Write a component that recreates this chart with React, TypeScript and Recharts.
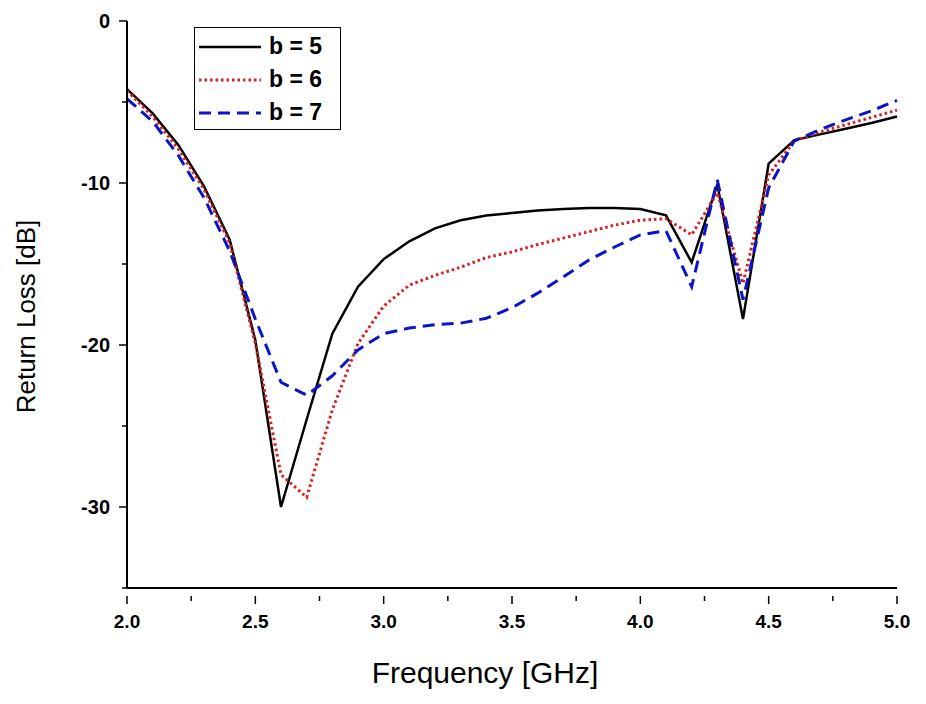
import { Line, LineChart, XAxis, YAxis, Label } from "recharts";

const freq = [2.0, 2.1, 2.2, 2.3, 2.4, 2.5, 2.6, 2.7, 2.8, 2.9, 3.0, 3.1, 3.2, 3.3, 3.4, 3.5, 3.6, 3.7, 3.8, 3.9, 4.0, 4.1, 4.2, 4.3, 4.4, 4.5, 4.6, 4.7, 4.8, 4.9, 5.0];
const b5 = [-4.2, -5.7, -7.65, -10.2, -13.5, -19.7, -30.0, -24.6, -19.3, -16.4, -14.7, -13.6, -12.8, -12.3, -12.0, -11.85, -11.7, -11.6, -11.55, -11.55, -11.6, -12.0, -14.9, -10.1, -18.4, -8.8, -7.35, -7.0, -6.65, -6.3, -5.9];
const b6 = [-4.3, -5.9, -7.9, -10.4, -13.7, -19.9, -28.0, -29.4, -24.0, -19.9, -17.6, -16.3, -15.7, -15.2, -14.6, -14.25, -13.8, -13.4, -13.0, -12.6, -12.3, -12.2, -13.2, -10.6, -16.2, -9.5, -7.4, -6.85, -6.4, -5.95, -5.5];
const b7 = [-4.8, -6.2, -8.3, -10.9, -14.2, -18.4, -22.3, -23.1, -21.9, -20.3, -19.3, -18.95, -18.75, -18.65, -18.35, -17.7, -16.8, -15.8, -14.75, -13.95, -13.2, -12.95, -16.4, -9.8, -17.2, -10.3, -7.4, -6.7, -6.1, -5.55, -4.9];

const xTicks = [2.0, 2.25, 2.5, 2.75, 3.0, 3.25, 3.5, 3.75, 4.0, 4.25, 4.5, 4.75, 5.0];
const xLabelled = [2.0, 2.5, 3.0, 3.5, 4.0, 4.5, 5.0];
const yTicks = [0, -5, -10, -15, -20, -25, -30, -35];
const yLabelled = [0, -10, -20, -30];

const series = [
  { key: "b5", name: "b = 5", color: "#000000", dash: undefined, width: 2.5 },
  { key: "b6", name: "b = 6", color: "#dd1c1c", dash: "2.5 3", width: 3 },
  { key: "b7", name: "b = 7", color: "#0a14c8", dash: "12 7", width: 3 },
];

const data = freq.map((f, i) => ({ f, b5: b5[i], b6: b6[i], b7: b7[i] }));

const FONT = "Arial, 'Liberation Sans', sans-serif";

function XTick(props: any) {
  const { x, y, payload } = props;
  const major = xLabelled.some((v) => Math.abs(v - payload.value) < 1e-6);
  return (
    <g>
      <line x1={x} x2={x} y1={y} y2={y + (major ? 8 : 5)} stroke="#000" strokeWidth={1.5} />
      {major && (
        <text x={x} y={y + 32} textAnchor="middle" fontFamily={FONT} fontWeight="bold" fontSize={19} fill="#000">
          {payload.value.toFixed(1)}
        </text>
      )}
    </g>
  );
}

function YTick(props: any) {
  const { x, y, payload } = props;
  const major = yLabelled.includes(payload.value);
  return (
    <g>
      <line x1={x - (major ? 8 : 5)} x2={x} y1={y} y2={y} stroke="#000" strokeWidth={1.5} />
      {major && (
        <text x={x - 17} y={y + 7} textAnchor="end" fontFamily={FONT} fontWeight="bold" fontSize={20} fill="#000">
          {payload.value}
        </text>
      )}
    </g>
  );
}

function XTitle(props: any) {
  const { viewBox } = props;
  return (
    <text x={viewBox.x + viewBox.width / 2 - 27} y={viewBox.y + 95} textAnchor="middle" fontFamily={FONT} fontSize={30} fill="#000">
      Frequency [GHz]
    </text>
  );
}

function YTitle(props: any) {
  const { viewBox } = props;
  const cx = 35;
  const cy = viewBox.y + viewBox.height / 2 + 12;
  return (
    <text x={cx} y={cy} transform={`rotate(-90 ${cx} ${cy})`} textAnchor="middle" fontFamily={FONT} fontSize={26} fill="#000">
      Return Loss [dB]
    </text>
  );
}

function LegendBox() {
  return (
    <div style={{ position: "absolute", left: 194, top: 27, border: "1.5px solid #000", background: "#fff", width: 147, height: 103, boxSizing: "border-box", paddingTop: 2 }}>
      {series.map((s) => (
        <div key={s.key} style={{ display: "flex", alignItems: "center", height: 33 }}>
          <svg width={70} height={10} style={{ marginLeft: 4 }}>
            <line x1={0} x2={62} y1={5} y2={5} stroke={s.color} strokeWidth={s.width} strokeDasharray={s.dash} />
          </svg>
          <span style={{ fontFamily: FONT, fontWeight: "bold", fontSize: 23, color: "#000" }}>{s.name}</span>
        </div>
      ))}
    </div>
  );
}

export default function App() {
  return (
    <div style={{ position: "absolute", left: 0, top: 0, width: 926, height: 704, background: "#fff" }}>
      <LineChart width={926} height={704} data={data} margin={{ top: 21, right: 29, left: 0, bottom: 0 }}>
        <XAxis
          dataKey="f"
          type="number"
          domain={[2, 5]}
          ticks={xTicks}
          interval={0}
          height={116}
          axisLine={{ stroke: "#000", strokeWidth: 2 }}
          tickLine={false}
          tick={<XTick />}
        >
          <Label content={<XTitle />} />
        </XAxis>
        <YAxis
          type="number"
          domain={[-35, 0]}
          ticks={yTicks}
          interval={0}
          width={127}
          axisLine={{ stroke: "#000", strokeWidth: 2 }}
          tickLine={false}
          tickSize={0}
          tickMargin={0}
          tick={<YTick />}
        >
          <Label content={<YTitle />} />
        </YAxis>
        {series.map((s) => (
          <Line
            key={s.key}
            dataKey={s.key}
            name={s.name}
            type="linear"
            stroke={s.color}
            strokeWidth={s.width}
            strokeDasharray={s.dash}
            dot={false}
            activeDot={false}
            isAnimationActive={false}
          />
        ))}
      </LineChart>
      <LegendBox />
    </div>
  );
}
